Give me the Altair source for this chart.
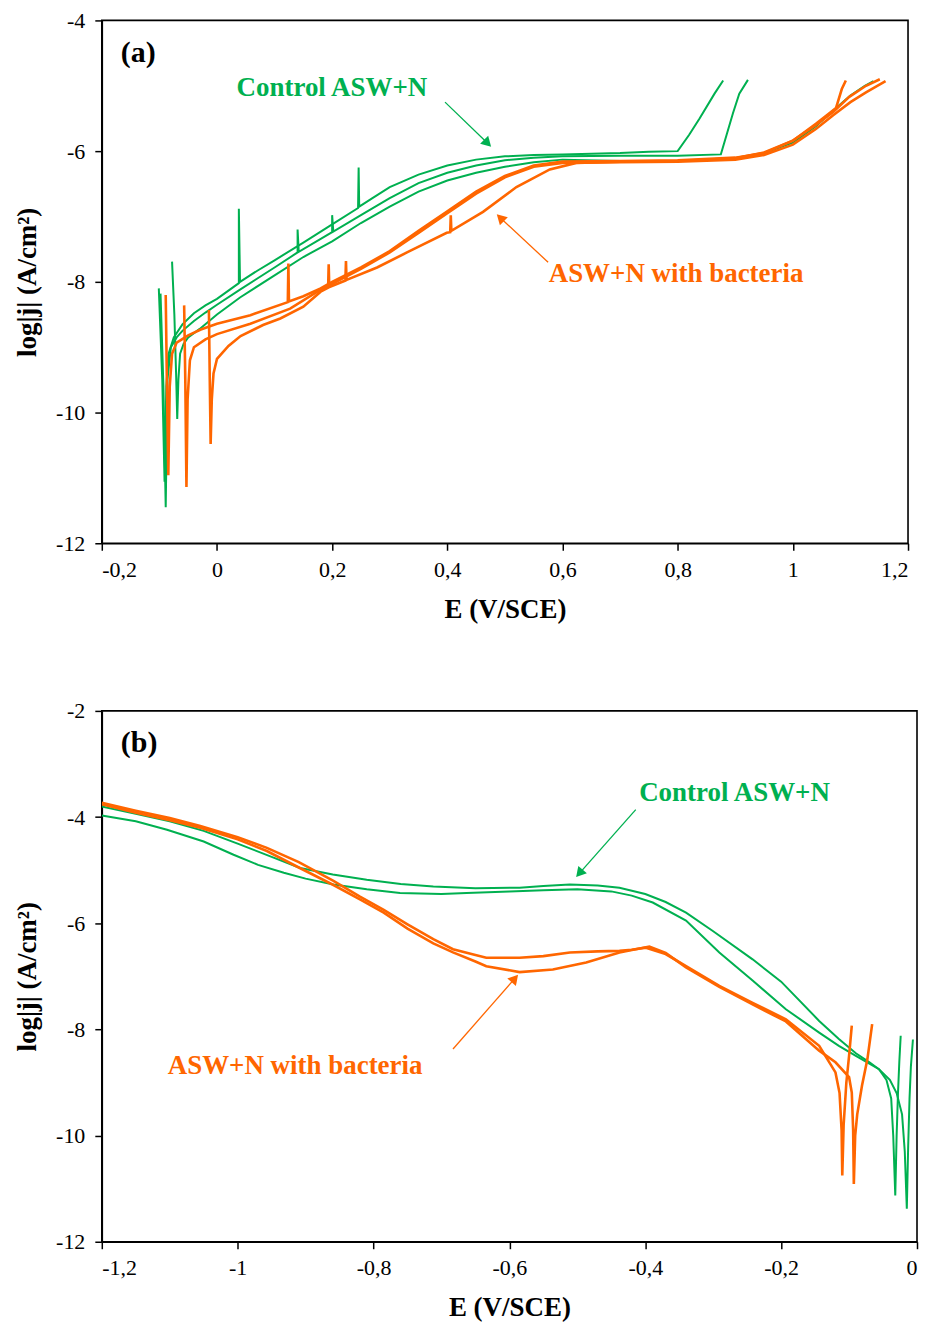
import altair as alt
import pandas as pd

GREEN = "#00B050"
ORANGE = "#FF6600"
FONT = "Liberation Serif"

# ---------------- Panel (a) : anodic polarization ----------------
A_G1_E = [-0.101, -0.095, -0.091, -0.088, -0.084, -0.075, -0.06, -0.04, -0.02, 0.0, 0.038, 0.038, 0.040, 0.07, 0.1, 0.15, 0.2, 0.245, 0.246, 0.247, 0.27, 0.3, 0.35, 0.4, 0.45, 0.5, 0.55, 0.6, 0.7, 0.75, 0.80, 0.82, 0.838, 0.864, 0.879]
A_G1_L = [-8.10, -9.5, -11.06, -9.6, -9.1, -8.85, -8.65, -8.48, -8.36, -8.26, -8.02, -6.88, -8.0, -7.83, -7.67, -7.40, -7.12, -6.87, -6.25, -6.85, -6.72, -6.55, -6.36, -6.22, -6.13, -6.08, -6.06, -6.05, -6.03, -6.01, -6.0, -5.75, -5.5, -5.12, -4.92]

A_G2_E = [-0.098, -0.093, -0.089, -0.086, -0.08, -0.07, -0.06, -0.04, -0.02, 0.0, 0.04, 0.1, 0.14, 0.14, 0.142, 0.2, 0.2, 0.202, 0.25, 0.3, 0.35, 0.4, 0.45, 0.5, 0.55, 0.6, 0.7, 0.8, 0.875, 0.885, 0.896, 0.907, 0.922]
A_G2_L = [-8.18, -9.6, -11.45, -9.5, -9.0, -8.85, -8.75, -8.6, -8.47, -8.35, -8.12, -7.78, -7.55, -7.2, -7.54, -7.24, -6.98, -7.23, -6.98, -6.72, -6.49, -6.33, -6.22, -6.14, -6.10, -6.08, -6.07, -6.07, -6.05, -5.75, -5.42, -5.12, -4.91]

A_G3_E = [-0.078, -0.074, -0.071, -0.069, -0.067, -0.064, -0.058, -0.05, -0.03, 0.0, 0.04, 0.1, 0.15, 0.2, 0.25, 0.3, 0.35, 0.4, 0.45, 0.5, 0.55, 0.6, 0.7, 0.8, 0.9, 0.95, 1.0, 1.04, 1.07, 1.1, 1.125, 1.14]
A_G3_L = [-7.69, -8.5, -9.4, -10.1, -9.5, -9.1, -8.95, -8.85, -8.72, -8.5, -8.24, -7.9, -7.62, -7.38, -7.1, -6.85, -6.62, -6.45, -6.33, -6.24, -6.17, -6.13, -6.15, -6.15, -6.11, -6.03, -5.87, -5.62, -5.38, -5.15, -5.0, -4.93]

A_O1_E = [-0.089, -0.087, -0.0845, -0.082, -0.078, -0.07, -0.05, -0.028, 0.0, 0.058, 0.123, 0.124, 0.125, 0.15, 0.18, 0.2, 0.25, 0.3, 0.35, 0.4, 0.45, 0.5, 0.55, 0.6, 0.7, 0.8, 0.9, 0.95, 1.0, 1.04, 1.07, 1.098, 1.127, 1.151]
A_O1_L = [-8.2, -9.5, -10.96, -9.6, -9.1, -8.93, -8.82, -8.73, -8.64, -8.51, -8.31, -7.72, -8.30, -8.22, -8.1, -8.0, -7.78, -7.53, -7.22, -6.92, -6.62, -6.38, -6.22, -6.16, -6.15, -6.14, -6.1, -6.03, -5.84, -5.6, -5.4, -5.17, -5.0, -4.9]

A_O2_E = [-0.057, -0.055, -0.053, -0.051, -0.047, -0.04, -0.02, 0.0, 0.058, 0.127, 0.18, 0.2, 0.25, 0.3, 0.35, 0.4, 0.45, 0.5, 0.55, 0.6, 0.7, 0.8, 0.9, 0.95, 1.0, 1.04, 1.07, 1.1, 1.127, 1.161]
A_O2_L = [-8.36, -9.5, -11.14, -9.8, -9.2, -9.0, -8.88, -8.8, -8.64, -8.41, -8.12, -8.03, -7.80, -7.55, -7.25, -6.95, -6.65, -6.40, -6.24, -6.18, -6.17, -6.16, -6.13, -6.06, -5.90, -5.66, -5.45, -5.25, -5.1, -4.93]

A_O3_E = [-0.014, -0.0125, -0.011, -0.009, -0.006, 0.0, 0.02, 0.041, 0.08, 0.11, 0.15, 0.18, 0.193, 0.194, 0.195, 0.223, 0.224, 0.225, 0.278, 0.33, 0.399, 0.405, 0.406, 0.407, 0.462, 0.52, 0.578, 0.624, 0.7, 0.8, 0.9, 0.95, 1.0, 1.04, 1.075, 1.085, 1.092]
A_O3_L = [-8.43, -9.5, -10.48, -9.8, -9.4, -9.18, -8.98, -8.83, -8.66, -8.56, -8.38, -8.15, -8.09, -7.73, -8.08, -7.98, -7.68, -7.97, -7.78, -7.55, -7.25, -7.24, -6.98, -7.22, -6.93, -6.55, -6.28, -6.18, -6.16, -6.15, -6.11, -6.02, -5.84, -5.58, -5.34, -5.05, -4.92]

# ---------------- Panel (b) : cathodic polarization ----------------
B_GA_E = [-1.2, -1.15, -1.1, -1.05, -1.0, -0.95, -0.908, -0.86, -0.81, -0.76, -0.712, -0.65, -0.585, -0.55, -0.511, -0.47, -0.438, -0.4, -0.37, -0.34, -0.3, -0.242, -0.2, -0.144, -0.115, -0.09, -0.07, -0.056, -0.04, -0.03, -0.022, -0.018, -0.015, -0.013, -0.011, -0.009, -0.006]
B_GA_L = [-3.80, -3.94, -4.08, -4.26, -4.50, -4.75, -4.96, -5.08, -5.18, -5.26, -5.31, -5.34, -5.33, -5.30, -5.27, -5.29, -5.33, -5.45, -5.6, -5.80, -6.15, -6.68, -7.1, -7.84, -8.18, -8.45, -8.62, -8.75, -8.95, -9.2, -9.6, -10.3, -11.38, -10.2, -9.3, -8.7, -8.19]

B_GB_E = [-1.2, -1.15, -1.104, -1.05, -1.006, -0.97, -0.932, -0.9, -0.859, -0.81, -0.761, -0.7, -0.663, -0.6, -0.55, -0.5, -0.45, -0.42, -0.389, -0.34, -0.291, -0.242, -0.193, -0.144, -0.115, -0.09, -0.056, -0.045, -0.038, -0.035, -0.032, -0.030, -0.028, -0.026, -0.024]
B_GB_L = [-3.97, -4.08, -4.24, -4.46, -4.71, -4.90, -5.05, -5.16, -5.27, -5.36, -5.43, -5.45, -5.43, -5.40, -5.38, -5.36, -5.40, -5.48, -5.61, -5.95, -6.55, -7.08, -7.62, -8.06, -8.31, -8.5, -8.75, -8.95, -9.3, -10.0, -11.13, -10.0, -9.2, -8.6, -8.12]

B_OX_E = [-1.2, -1.15, -1.1, -1.055, -1.0, -0.957, -0.91, -0.859, -0.82, -0.785, -0.75, -0.712, -0.683, -0.65, -0.634, -0.585, -0.55, -0.511, -0.47, -0.438, -0.42, -0.399, -0.37, -0.34, -0.291, -0.242, -0.193, -0.144, -0.12, -0.114, -0.111, -0.110, -0.108, -0.104, -0.1, -0.096]
B_OX_L = [-3.73, -3.88, -4.02, -4.17, -4.38, -4.58, -4.85, -5.20, -5.50, -5.75, -6.02, -6.30, -6.49, -6.60, -6.65, -6.65, -6.62, -6.55, -6.53, -6.52, -6.50, -6.46, -6.58, -6.81, -7.18, -7.50, -7.81, -8.31, -8.81, -9.2, -9.9, -10.75, -9.8, -9.0, -8.5, -7.93]

B_OY_E = [-1.2, -1.15, -1.1, -1.055, -1.0, -0.957, -0.91, -0.859, -0.82, -0.785, -0.75, -0.712, -0.683, -0.65, -0.634, -0.585, -0.536, -0.487, -0.438, -0.394, -0.37, -0.34, -0.291, -0.242, -0.193, -0.144, -0.12, -0.1, -0.096, -0.094, -0.093, -0.091, -0.088, -0.081, -0.073, -0.066]
B_OY_L = [-3.76, -3.92, -4.06, -4.20, -4.42, -4.64, -4.95, -5.28, -5.55, -5.80, -6.10, -6.38, -6.55, -6.72, -6.81, -6.92, -6.87, -6.74, -6.55, -6.44, -6.56, -6.83, -7.20, -7.53, -7.85, -8.40, -8.62, -8.9, -9.19, -9.9, -10.91, -10.0, -9.6, -9.06, -8.56, -7.90]

# ---------------- annotations ----------------
A_TXT = ["(a)", "Control ASW+N", "ASW+N with bacteria"]
A_TXT_E = [-0.167, 0.034, 0.576]
A_TXT_L = [-4.50, -5.04, -7.88]
B_TXT = ["(b)", "Control ASW+N", "ASW+N with bacteria"]
B_TXT_E = [-1.172, -0.409, -1.103]
B_TXT_L = [-2.60, -3.54, -8.69]
TXT_COL = ["black", GREEN, ORANGE]
TXT_SIZE = [30, 27, 27]

ARR_COL = [GREEN, ORANGE]
A_ARR_E1 = [0.396, 0.575]
A_ARR_L1 = [-5.25, -7.70]
A_ARR_E2 = [0.470, 0.492]
A_ARR_L2 = [-5.88, -7.02]
A_ARR_ANG = [135, 314]
B_ARR_E1 = [-0.414, -0.683]
B_ARR_L1 = [-3.86, -8.37]
B_ARR_E2 = [-0.497, -0.592]
B_ARR_L2 = [-5.06, -7.04]
B_ARR_ANG = [221, 41]

Y_TITLE = "log|j| (A/cm²)"
X_TITLE = "E (V/SCE)"
LABEL_EXPR = "replace(toString(datum.value), '.', ',')"


def curves(spec):
    frames = []
    for name, E, L, col, sw in spec:
        frames.append(pd.DataFrame({"E": E, "L": L, "curve": name,
                                    "i": list(range(len(E))), "col": col, "sw": sw}))
    return pd.concat(frames, ignore_index=True)


def panel(curve_df, txt, txt_e, txt_l, ae1, al1, ae2, al2, aang,
          xdom, ydom, xvals, yvals, width, height):
    xs = alt.Scale(domain=xdom, nice=False, zero=False)
    ys = alt.Scale(domain=ydom, nice=False, zero=False)
    xax = alt.Axis(values=xvals, labelExpr=LABEL_EXPR, title=X_TITLE,
                   labelPadding=9, titlePadding=16)
    yax = alt.Axis(values=yvals, labelExpr=LABEL_EXPR, title=Y_TITLE,
                   labelPadding=10, titlePadding=14)

    lines = alt.Chart(curve_df).mark_line(clip=True).encode(
        x=alt.X("E:Q", scale=xs, axis=xax),
        y=alt.Y("L:Q", scale=ys, axis=yax),
        detail="curve:N",
        order="i:Q",
        color=alt.Color("col:N", scale=None),
        strokeWidth=alt.StrokeWidth("sw:Q", scale=None),
    )
    tdf = pd.DataFrame({"E": txt_e, "L": txt_l, "t": txt, "col": TXT_COL, "sz": TXT_SIZE})
    texts = alt.Chart(tdf).mark_text(align="left", baseline="middle", font=FONT,
                                      fontWeight="bold").encode(
        x=alt.X("E:Q", scale=xs, axis=xax),
        y=alt.Y("L:Q", scale=ys, axis=yax),
        text="t:N",
        color=alt.Color("col:N", scale=None),
        size=alt.Size("sz:Q", scale=None),
    )
    adf = pd.DataFrame({"E": ae1, "L": al1, "E2": ae2, "L2": al2, "ang": aang, "col": ARR_COL})
    rules = alt.Chart(adf).mark_rule(strokeWidth=1.3).encode(
        x=alt.X("E:Q", scale=xs, axis=xax),
        y=alt.Y("L:Q", scale=ys, axis=yax),
        x2="E2:Q",
        y2="L2:Q",
        color=alt.Color("col:N", scale=None),
    )
    heads = alt.Chart(adf).mark_point(shape="triangle-up", filled=True, size=130,
                                      opacity=1).encode(
        x=alt.X("E2:Q", scale=xs, axis=xax),
        y=alt.Y("L2:Q", scale=ys, axis=yax),
        angle=alt.Angle("ang:Q", scale=None),
        color=alt.Color("col:N", scale=None),
    )
    return alt.layer(lines, rules, heads, texts).properties(width=width, height=height)


GW = 2.0
OW = 2.6
dfa = curves([
    ("g1", A_G1_E, A_G1_L, GREEN, GW), ("g2", A_G2_E, A_G2_L, GREEN, GW), ("g3", A_G3_E, A_G3_L, GREEN, GW),
    ("o1", A_O1_E, A_O1_L, ORANGE, OW), ("o2", A_O2_E, A_O2_L, ORANGE, OW), ("o3", A_O3_E, A_O3_L, ORANGE, OW),
])
dfb = curves([
    ("ga", B_GA_E, B_GA_L, GREEN, GW), ("gb", B_GB_E, B_GB_L, GREEN, GW),
    ("ox", B_OX_E, B_OX_L, ORANGE, OW), ("oy", B_OY_E, B_OY_L, ORANGE, OW),
])

pa = panel(dfa, A_TXT, A_TXT_E, A_TXT_L, A_ARR_E1, A_ARR_L1, A_ARR_E2, A_ARR_L2, A_ARR_ANG,
           [-0.2, 1.2], [-12, -4], [-0.2, 0, 0.2, 0.4, 0.6, 0.8, 1, 1.2],
           [-12, -10, -8, -6, -4], 808, 524)
pb = panel(dfb, B_TXT, B_TXT_E, B_TXT_L, B_ARR_E1, B_ARR_L1, B_ARR_E2, B_ARR_L2, B_ARR_ANG,
           [-1.2, 0], [-12, -2], [-1.2, -1, -0.8, -0.6, -0.4, -0.2, 0],
           [-12, -10, -8, -6, -4, -2], 817, 532)

chart = alt.vconcat(pa, pb, spacing=76).resolve_scale(
    x="independent", y="independent"
).configure_view(
    stroke="black", strokeWidth=1.6
).configure_axis(
    grid=False, domainColor="black", domainWidth=1.6, tickColor="black", tickWidth=1.5,
    tickSize=7, labelFont=FONT, labelFontSize=22, labelColor="black",
    titleFont=FONT, titleFontSize=27, titleFontWeight="bold", titleColor="black",
).properties(
    padding={"top": -1, "left": 4, "right": 0, "bottom": 2}
)

chart.save("out.html", embed_options={"renderer": "svg", "actions": False})
